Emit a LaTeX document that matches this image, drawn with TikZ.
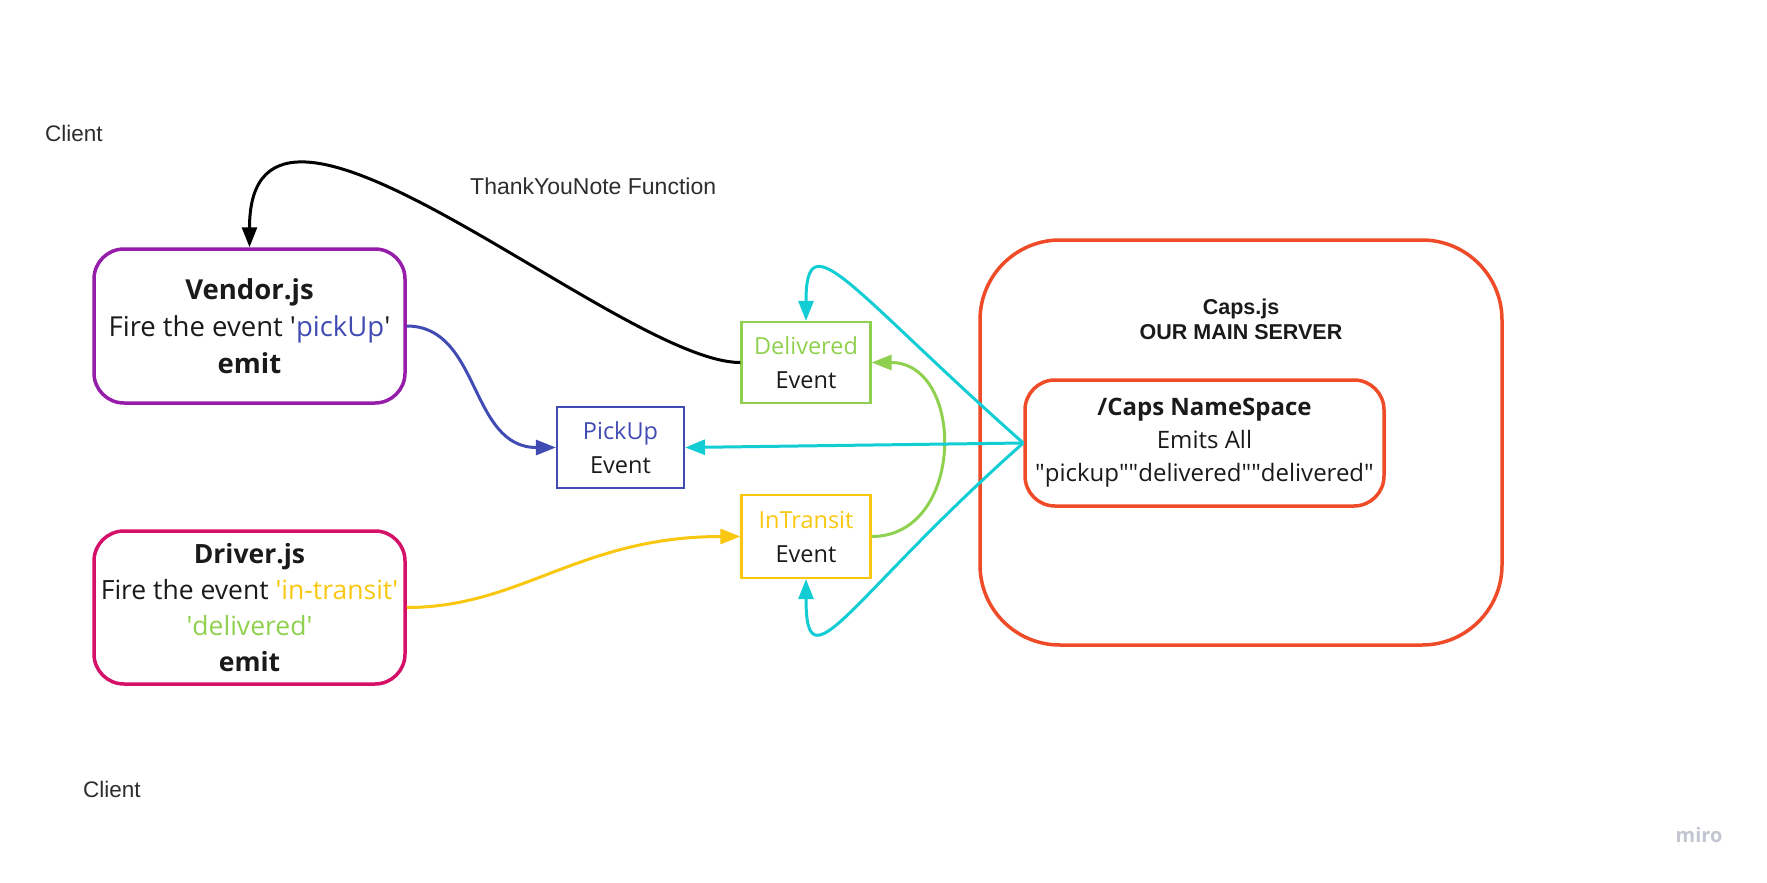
\documentclass[tikz,border=0pt]{standalone}
\usepackage{fontspec}
\setmainfont{Open Sans}
\newfontfamily\arialf{Liberation Sans}
\usetikzlibrary{arrows.meta}
\definecolor{vendorc}{RGB}{150,28,170}
\definecolor{driverc}{RGB}{212,16,104}
\definecolor{bluec}{RGB}{65,75,180}
\definecolor{greenc}{RGB}{143,209,79}
\definecolor{yellowc}{RGB}{250,199,16}
\definecolor{cyanc}{RGB}{18,205,212}
\definecolor{redc}{RGB}{240,75,40}
\definecolor{textc}{RGB}{26,26,26}
\definecolor{labelc}{RGB}{45,45,45}
\definecolor{miroc}{RGB}{195,197,208}
\newcommand\qS{\textquotesingle}
\newcommand\qD{\textquotedbl}
\begin{document}
\begin{tikzpicture}[x=1pt,y=-1pt,
  bigbox/.style={draw, line width=3.5pt, rounded corners=30pt, align=center, inner sep=0pt, text=textc},
  evbox/.style={draw, line width=2.2pt, align=center, minimum width=129pt, minimum height=81pt, inner sep=0pt, text=textc, font=\fontsize{23.5}{34}\selectfont},
  conn/.style={line width=3pt, -{Triangle[length=20pt,width=15pt]}},
  lbl/.style={font=\arialf\fontsize{22.5}{24}\selectfont, text=labelc, anchor=base west, inner sep=0pt}]
\useasboundingbox (0,0) rectangle (1767,883);

% boxes
\node[bigbox, draw=vendorc, minimum width=311pt, minimum height=154pt, font=\fontsize{27.5}{37}\selectfont] (vendor) at (249.5,326)
  {\textbf{Vendor.js}\\Fire the event \qS\textcolor{bluec}{pickUp}\qS\\\textbf{emit}};
\node[bigbox, draw=driverc, minimum width=311pt, minimum height=153pt, font=\fontsize{26.5}{36}\selectfont] (driver) at (249.5,607.5)
  {\textbf{Driver.js}\\Fire the event \textcolor{yellowc}{\qS in-transit\qS}\\\textcolor{greenc}{\qS delivered\qS}\\\textbf{emit}};
\node[evbox, draw=greenc] (delivered) at (806,362.5) {\textcolor{greenc}{Delivered}\\Event};
\node[evbox, draw=bluec, minimum width=127pt] (pickup) at (620.5,447.5) {\textcolor{bluec}{PickUp}\\Event};
\node[evbox, draw=yellowc, minimum height=83pt] (intransit) at (806,536.5) {\textcolor{yellowc}{InTransit}\\Event};

\node[bigbox, draw=redc, rounded corners=80pt, minimum width=522pt, minimum height=405pt] (caps) at (1241,442.5) {};
\node[align=center, inner sep=0pt, text=textc, font=\arialf\bfseries\fontsize{21.5}{25}\selectfont] (capstitle) at (1241,319) {Caps.js\\OUR MAIN SERVER};
\node[bigbox, draw=redc, minimum width=359pt, minimum height=126pt, font=\fontsize{24}{33}\selectfont] (ns) at (1204.5,443)
  {\textbf{/Caps NameSpace}\\Emits All\\\qD pickup\qD\qD delivered\qD\qD delivered\qD};

% labels
\node[lbl] (client1) at (45,141) {Client};
\node[lbl] (client2) at (83,797) {Client};
\node[lbl, font=\arialf\fontsize{23}{24}\selectfont] (thanks) at (470,194) {ThankYouNote Function};
\node[font=\bfseries\fontsize{20}{24}\selectfont, text=miroc, inner sep=0pt] (miro) at (1699,835) {miro};

% connectors
\draw[conn, black] (delivered.west) .. controls +(-121,0) and +(0,-225) .. (vendor.north);
\draw[conn, bluec] (vendor.east) .. controls +(74,0) and +(-87,0) .. (pickup.west);
\draw[conn, yellowc] (driver.east) .. controls +(114,0) and +(-161,0) .. (intransit.west);
\draw[conn, greenc] (intransit.east) .. controls +(94,0) and +(94,0) .. (delivered.east);
\draw[conn, cyanc] (ns.west) -- (pickup.east);
\draw[conn, cyanc] (ns.west) .. controls +(-175,-155) and +(0,-102) .. (delivered.north);
\draw[conn, cyanc] (ns.west) .. controls +(-175,155) and +(0,112) .. (intransit.south);
\end{tikzpicture}
\end{document}
